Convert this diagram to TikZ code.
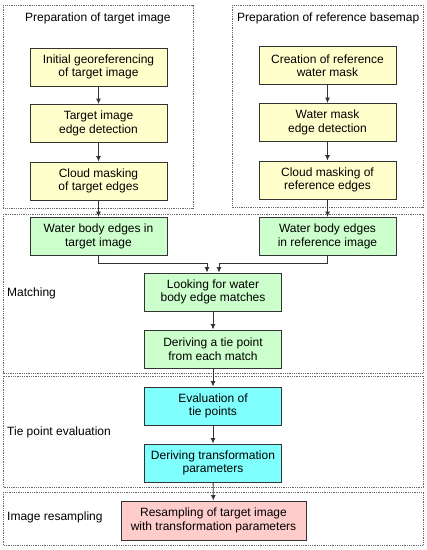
\documentclass[tikz,border=0pt]{standalone}
\usepackage{fontspec}
\setmainfont{Liberation Sans}
\usepackage{tikz}
\usetikzlibrary{arrows.meta,positioning}

\definecolor{prepfill}{HTML}{FFFFCC}
\definecolor{matchfill}{HTML}{CCFFCC}
\definecolor{evalfill}{HTML}{80FFFF}
\definecolor{resfill}{HTML}{FFCCCC}
\definecolor{edge}{HTML}{333333}

\begin{document}
\begin{tikzpicture}[
  x=1pt, y=-1pt,
  font=\fontsize{12}{13.5}\selectfont,
  stepbox/.style={draw=edge, line width=0.9pt, minimum width=137pt, minimum height=38pt, align=center, inner sep=1pt},
  frame/.style={draw=gray!80!black, line width=0.8pt, densely dotted},
  arrow/.style={-{Latex[length=5.5pt,width=5pt]}, draw=edge, line width=0.9pt},
  lab/.style={anchor=west, inner sep=0pt}
]
\useasboundingbox (0,0) rectangle (427,550);
\draw[frame] (3,5) rectangle (193,208);
\draw[frame] (232,5) rectangle (423,207);
\draw[frame] (3,214) rectangle (423,373);
\draw[frame] (3,376) rectangle (423,487);
\draw[frame] (3,492) rectangle (423,545);
\node[lab] (prepT) at (25,18) {Preparation of target image};
\node[lab] (prepR) at (237,18) {Preparation of reference basemap};
\node[lab] (matchlab) at (7,293) {Matching};
\node[lab] (evallab) at (7,432) {Tie point evaluation};
\node[lab] (reslab) at (7,517) {Image resampling};
\node[stepbox, fill=prepfill] (geo) at (98.5,67) {Initial georeferencing\\of target image};
\node[stepbox, fill=prepfill] (tedge) at (98.5,123.5) {Target image\\edge detection};
\node[stepbox, fill=prepfill] (tcloud) at (98.5,181) {Cloud masking\\of target edges};
\node[stepbox, fill=prepfill] (wmask) at (327.5,65.5) {Creation of reference\\water mask};
\node[stepbox, fill=prepfill] (redge) at (327.5,122.5) {Water mask\\edge detection};
\node[stepbox, fill=prepfill] (rcloud) at (327.5,180) {Cloud masking of\\reference edges};
\node[stepbox, fill=matchfill] (wtarget) at (98.5,236.5) {Water body edges in\\target image};
\node[stepbox, fill=matchfill] (wref) at (327.5,236.5) {Water body edges\\in reference image};
\node[stepbox, fill=matchfill] (look) at (213,292) {Looking for water\\body edge matches};
\node[stepbox, fill=matchfill] (tie) at (213,349) {Deriving a tie point\\from each match};
\node[stepbox, fill=evalfill] (evalt) at (213,406) {Evaluation of\\tie points};
\node[stepbox, fill=evalfill] (trans) at (213,463) {Deriving transformation\\parameters};
\node[stepbox, fill=resfill, minimum width=185pt, minimum height=39pt] (resamp) at (213.5,520.5) {Resampling of target image\\with transformation parameters};
\coordinate (mergeL) at (207,263);
\coordinate (mergeR) at (219,263);
\draw[arrow] (geo) -- (tedge);
\draw[arrow] (tedge) -- (tcloud);
\draw[arrow] (tcloud) -- (wtarget);
\draw[arrow] (wmask) -- (redge);
\draw[arrow] (redge) -- (rcloud);
\draw[arrow] (rcloud) -- (wref);
\draw[arrow] (wtarget.south) |- (mergeL) -- (mergeL |- look.north);
\draw[arrow] (wref.south) |- (mergeR) -- (mergeR |- look.north);
\draw[arrow] (look) -- (tie);
\draw[arrow] (tie) -- (evalt);
\draw[arrow] (evalt) -- (trans);
\draw[arrow] (trans) -- (resamp);
\end{tikzpicture}
\end{document}
